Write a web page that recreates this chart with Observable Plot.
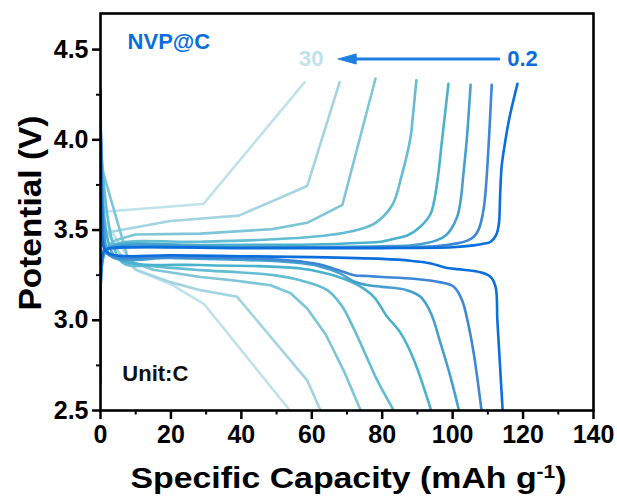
<!DOCTYPE html>
<html>
<head>
<meta charset="utf-8">
<script src="https://cdn.jsdelivr.net/npm/d3@7"></script>
<script src="https://cdn.jsdelivr.net/npm/@observablehq/plot@0.6"></script>
<style>
  html, body { margin: 0; padding: 0; background: #fff; }
</style>
</head>
<body>
<div id="chart"></div>
<script>
// C-rates (0.2 darkest ... 30 lightest)
const rates = ["0.2", "0.5", "1", "2", "5", "10", "20", "30"];
const rateColors = ["#0a6edc", "#3d87d6", "#45a0d0", "#4bb2cb", "#64bdd2", "#7ec5d8", "#a3d4e2", "#c0e2eb"];

// Charge curves: [capacity (mAh/g), potential (V)]
const charge_02 = [[0,2.65],[0.3,3.3],[1,3.385],[3,3.4],[40,3.4],[80,3.4],[100,3.405],[106,3.415],[109,3.425],[110.8,3.435],[112.3,3.47],[113.1,3.53],[113.5,3.7],[113.9,3.85],[114.6,3.95],[116,4.11],[118.4,4.31]];
const charge_05 = [[0,2.75],[0.5,3.35],[1.5,3.39],[4,3.4],[40,3.402],[80,3.405],[95,3.41],[101.3,3.426],[104,3.44],[106,3.463],[107.3,3.5],[108,3.54],[108.9,3.63],[109.5,3.75],[110.3,4.0],[111.1,4.305]];
const charge_1 = [[0,2.9],[0.8,3.36],[2,3.4],[40,3.405],[80,3.41],[89,3.417],[95.6,3.444],[98,3.47],[99.4,3.5],[101.3,3.574],[102.3,3.667],[103,3.8],[104,4.0],[105.1,4.305]];
const charge_2 = [[0,3.13],[1,3.36],[3,3.41],[28.4,3.417],[60,3.42],[75,3.43],[79.5,3.435],[84,3.455],[87.1,3.47],[90.9,3.52],[93.75,3.59],[95.5,3.75],[97,4.0],[98.8,4.31]];
const charge_5 = [[0,3.35],[4,3.42],[28.4,3.435],[45,3.445],[58.7,3.46],[66,3.475],[72.9,3.5],[78.1,3.54],[82.9,3.64],[85.5,3.8],[88.1,4.02],[88.6,4.11],[89.7,4.33]];
const charge_10 = [[0,3.38],[4.3,3.444],[9.9,3.475],[28.4,3.48],[48.8,3.505],[58.7,3.54],[68.7,3.64],[78.1,4.34]];
const charge_20 = [[0,3.48],[19.8,3.55],[39.3,3.58],[58.7,3.744],[67.9,4.32]];
const charge_30 = [[0,3.6],[29.2,3.644],[58,4.32]];

// Discharge curves: [capacity (mAh/g), potential (V)]
const discharge_02 = [[0,4.28],[0.4,3.6],[1,3.4],[3,3.365],[20,3.36],[40,3.355],[60,3.35],[80,3.34],[88,3.33],[93.8,3.315],[98.5,3.29],[103,3.28],[108,3.265],[110.8,3.24],[112.2,3.185],[112.7,3.0],[113.3,2.8],[114.2,2.5]];
const discharge_05 = [[0,4.27],[0.6,3.6],[1.5,3.38],[4,3.35],[20,3.35],[40,3.345],[55,3.33],[62,3.31],[68,3.275],[72,3.25],[76,3.245],[80,3.24],[89,3.23],[96.6,3.21],[100.4,3.185],[102.7,3.11],[104.2,3.0],[106,2.815],[108.2,2.5]];
const discharge_1 = [[0,4.25],[1,3.5],[3,3.355],[20,3.345],[40,3.335],[55,3.32],[62,3.3],[68,3.26],[72,3.215],[76,3.194],[80,3.185],[87,3.167],[90.9,3.13],[93.8,3.04],[96.6,2.87],[99.4,2.685],[101.8,2.5]];
const discharge_2 = [[0,4.2],[2,3.45],[5,3.34],[28.4,3.306],[45,3.3],[56.8,3.287],[63,3.265],[69.1,3.23],[73.5,3.19],[77.6,3.13],[81.4,3.02],[85.2,2.93],[89,2.78],[93.9,2.5]];
const discharge_5 = [[0,4.07],[5.7,3.33],[15,3.3],[28.4,3.278],[40,3.265],[49.2,3.25],[57,3.22],[64.4,3.167],[68.5,3.08],[72,2.95],[75.5,2.8],[78.6,2.667],[83.3,2.5]];
const discharge_10 = [[0,3.87],[8,3.33],[15,3.28],[28.4,3.24],[38,3.22],[48.3,3.194],[54,3.15],[58.7,3.065],[64,2.92],[69.1,2.72],[73.9,2.5]];
const discharge_20 = [[0,3.56],[5,3.38],[10,3.28],[20,3.21],[28.4,3.167],[38.8,3.13],[58.7,2.667],[62.5,2.5]];
const discharge_30 = [[0,3.59],[10,3.28],[20,3.2],[29.4,3.09],[53.8,2.5]];

// Axis ticks
const xTicks = [0, 20, 40, 60, 80, 100, 120, 140];
const xMinorTicks = [10, 30, 50, 70, 90, 110, 130];
const yTicks = [2.5, 3.0, 3.5, 4.0, 4.5];
const yMinorTicks = [2.75, 3.25, 3.75, 4.25];

// Annotations (data units)
const arrowLine = [[72, 4.448], [113.1, 4.448]];
const arrowHead = [[67.5, 4.448], [72.6, 4.476], [72.6, 4.42], [67.5, 4.448]];
const startLabels = [
  {x: 7.7, y: 4.545, text: "NVP@C", color: "#0a6edc"},
  {x: 115.5, y: 4.448, text: "0.2", color: "#0a6edc"},
  {x: 6.2, y: 2.7, text: "Unit:C", color: "#111111"}
];
const endLabels = [
  {x: 63.3, y: 4.448, text: "30", color: "#c0e2eb"}
];

const chargeSets = [charge_02, charge_05, charge_1, charge_2, charge_5, charge_10, charge_20, charge_30];
const dischargeSets = [discharge_02, discharge_05, discharge_1, discharge_2, discharge_5, discharge_10, discharge_20, discharge_30];

const rows = [];
rates.forEach((r, i) => {
  chargeSets[i].forEach(([x, y]) => rows.push({rate: r, kind: "charge", x, y}));
  dischargeSets[i].forEach(([x, y]) => rows.push({rate: r, kind: "discharge", x, y}));
});

const order = [...rates].reverse(); // lightest first, darkest on top
const lineMarks = [];
order.forEach(r => {
  const i = rates.indexOf(r);
  for (const kind of ["discharge", "charge"]) {
    const data = rows.filter(d => d.rate === r && d.kind === kind);
    lineMarks.push(Plot.line(data, {
      x: "x", y: "y", stroke: rateColors[i], strokeWidth: 2.6,
      curve: (r === "20" || r === "30" || r === "10") ? "linear" : "catmull-rom",
      clip: true
    }));
  }
});

const chart = Plot.plot({
  width: 617,
  height: 497,
  marginTop: 13,
  marginRight: 24,
  marginBottom: 87,
  marginLeft: 100,
  x: {domain: [0, 140], label: null},
  y: {domain: [2.5, 4.7], label: null},
  style: {fontFamily: "'Liberation Sans', Arial, sans-serif", fontWeight: "bold", background: "white", color: "#000"},
  marks: [
    ...lineMarks,
    Plot.axisX({ticks: xMinorTicks, tickSize: 4.5, tickFormat: () => "", strokeWidth: 2, label: null}),
    Plot.axisX({ticks: xTicks, tickSize: 9, tickPadding: 6, fontSize: 25, fontWeight: "bold", strokeWidth: 2.5, label: null, tickFormat: d => String(d)}),
    Plot.axisY({ticks: yMinorTicks, tickSize: 4, tickFormat: () => "", strokeWidth: 2, label: null}),
    Plot.axisY({ticks: yTicks, tickSize: 8, tickPadding: 4, fontSize: 25, fontWeight: "bold", strokeWidth: 2.5, label: null, tickFormat: d3.format(".1f")}),
    Plot.frame({stroke: "#000", strokeWidth: 2.6}),
    Plot.line(arrowLine, {x: d => d[0], y: d => d[1], stroke: "#1f7fe0", strokeWidth: 3}),
    Plot.line(arrowHead, {x: d => d[0], y: d => d[1], stroke: "#1f7fe0", fill: "#1f7fe0", strokeWidth: 1}),
    Plot.text(startLabels, {x: "x", y: "y", text: "text", fill: d => d.color, fontSize: 22, textAnchor: "start", lineAnchor: "middle", fontWeight: "bold"}),
    Plot.text(endLabels, {x: "x", y: "y", text: "text", fill: d => d.color, fontSize: 22, textAnchor: "end", lineAnchor: "middle", fontWeight: "bold"}),
    Plot.text(["Potential (V)"], {frameAnchor: "left", dx: -60, dy: 98.5, rotate: -90, fontSize: 31, fontWeight: "bold", textAnchor: "start", lineAnchor: "bottom", fill: "#000"}),
    Plot.text(["Specific Capacity (mAh g"], {frameAnchor: "bottom", dx: -216.5, dy: 77.5, fontSize: 29, fontWeight: "bold", textAnchor: "start", lineAnchor: "bottom", fill: "#000"})
  ]
});

// superscript and stretched titles
d3.select(chart).selectAll("text").each(function() {
  const t = this.textContent;
  if (t === "Specific Capacity (mAh g") {
    const sel = d3.select(this);
    sel.append("tspan").attr("baseline-shift", "super").attr("font-size", "0.62em").text("-1");
    sel.append("tspan").text(")");
    sel.attr("textLength", 436).attr("lengthAdjust", "spacingAndGlyphs");
  } else if (t === "Potential (V)") {
    d3.select(this).attr("textLength", 195).attr("lengthAdjust", "spacingAndGlyphs");
  }
});

document.getElementById("chart").appendChild(chart);
</script>
</body>
</html>
